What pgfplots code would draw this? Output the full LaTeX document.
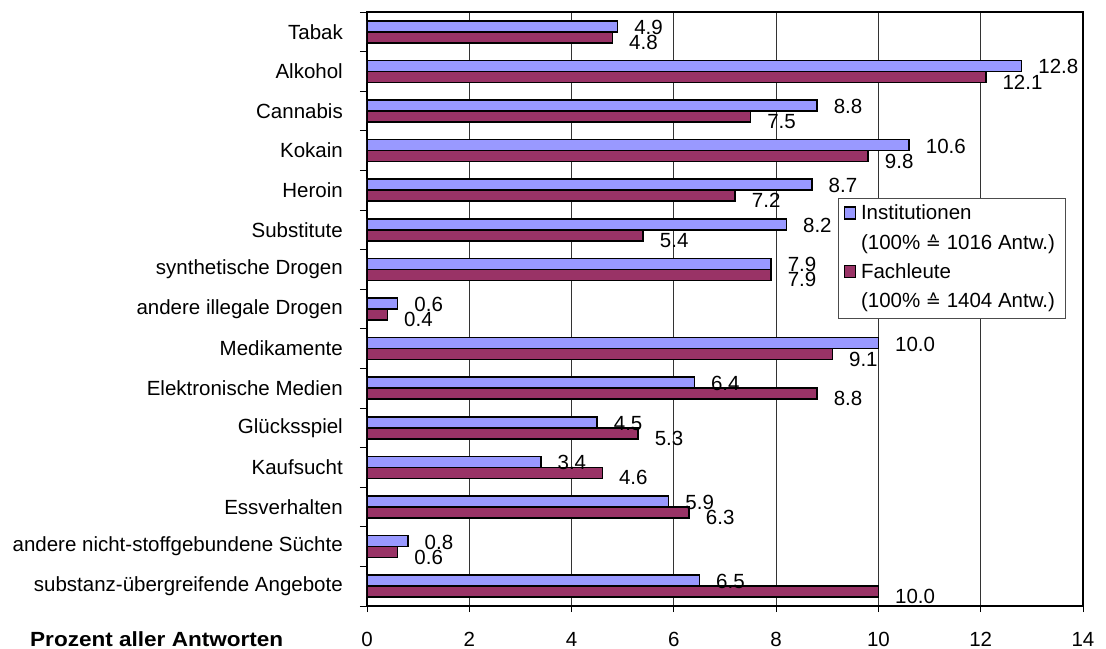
\documentclass[border=0pt]{standalone}
\usepackage{fontspec}
\setmainfont{Liberation Sans}
\newfontfamily\symfont{DejaVu Sans}
\usepackage{pgfplots}
\pgfplotsset{compat=1.18}
\definecolor{inst}{HTML}{9999FF}
\definecolor{fach}{HTML}{993366}
\newcommand{\entspricht}{{\symfont\fontsize{18bp}{20bp}\selectfont ≙}}

% Angebote nach Suchtform: x = Prozent, y = Position (14 = oben)
\pgfplotstableread{
x y
4.9 14
12.8 13
8.8 12
10.6 11
8.7 10
8.2 9
7.9 8
0.6 7
10.0 6
6.4 5
4.5 4
3.4 3
5.9 2
0.8 1
6.5 0
}\institutionen
\pgfplotstableread{
x y
4.8 14
12.1 13
7.5 12
9.8 11
7.2 10
5.4 9
7.9 8
0.4 7
9.1 6
8.8 5
5.3 4
4.6 3
6.3 2
0.6 1
10.0 0
}\fachleute

\begin{document}
\fontsize{20.5bp}{24bp}\selectfont
\begin{tikzpicture}
\useasboundingbox (-367bp,-43bp) rectangle (739bp,606bp);
\begin{axis}[
  at={(0,0)}, anchor=south west,
  scale only axis, width=716bp, height=594bp,
  xbar, bar width=11bp,
  xmin=0, xmax=14, ymin=-0.5, ymax=14.5,
  /pgf/number format/assume math mode=true,
  xtick={0,2,...,14},
  xmajorgrids, major grid style={black!80, line width=0.8bp},
  ytick={0,...,14},
  yticklabels={substanz-übergreifende Angebote, andere nicht-stoffgebundene Süchte, Essverhalten, Kaufsucht, Glücksspiel, Elektronische Medien, Medikamente, andere illegale Drogen, synthetische Drogen, Substitute, Heroin, Kokain, Cannabis, Alkohol, Tabak},
  minor ytick={-0.5,0.5,...,14.5},
  tick align=outside, tick pos=left,
  major tick length=6bp, minor tick length=7bp,
  major y tick style={draw=none},
  minor y tick style={black, line width=0.8bp},
  major x tick style={black, line width=0.8bp},
  axis line style={black, line width=1.2bp},
  xticklabel style={anchor=base, inner sep=0pt, yshift=-34bp},
  yticklabel style={anchor=east, inner sep=0pt, xshift=-18bp},
  nodes near coords={\pgfmathprintnumber[fixed,fixed zerofill,precision=1]{\pgfplotspointmeta}},
  point meta=x,
  legend style={at={(rel axis cs:0.658,0.687)}, anchor=north west,
    draw=black!70, line width=0.8bp, inner xsep=5bp, inner ysep=6bp,
    cells={anchor=base west}, row sep=9.3bp,
    nodes={text height=15.5bp, text depth=4.5bp, inner xsep=5bp, inner ysep=0pt}},
  legend image code/.code={\draw[#1, line width=1.5bp] (0bp,1bp) rectangle (11bp,13bp);},
]
\addplot[fill=inst, draw=black, line width=1.5bp, bar shift=5.5bp,
  every node near coord/.append style={anchor=west, inner sep=0pt, xshift=16bp, yshift=-1bp, text=black}]
  table[x=x, y=y] {\institutionen};
\addlegendentry{Institutionen}
\addlegendimage{empty legend}
\addlegendentry{(100\% \entspricht\ 1016 Antw.)}
\addplot[fill=fach, draw=black, line width=1.5bp, bar shift=-5.5bp,
  every node near coord/.append style={anchor=west, inner sep=0pt, xshift=16bp, yshift=-5bp, text=black}]
  table[x=x, y=y] {\fachleute};
\addlegendentry{Fachleute}
\addlegendimage{empty legend}
\addlegendentry{(100\% \entspricht\ 1404 Antw.)}
\end{axis}
\node[anchor=west, inner sep=0pt] at (-337bp,-33.5bp) {\scalebox{1.1}[1]{\bfseries Prozent aller Antworten}};
\end{tikzpicture}
\end{document}
